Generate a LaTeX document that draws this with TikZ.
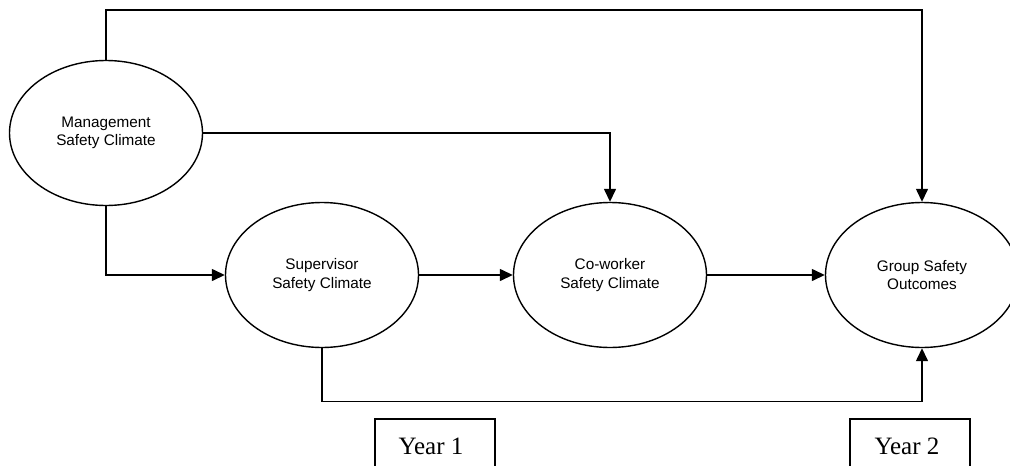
\documentclass[tikz,border=0pt]{standalone}
\usepackage{fontspec}
\setmainfont{Liberation Serif}
\newfontfamily\arialfont{Liberation Sans}
\usetikzlibrary{shapes.geometric,arrows.meta}

\tikzset{
  construct/.style={draw, ellipse, line width=1.4pt, inner sep=0pt,
    minimum width=193pt, minimum height=145pt, align=center,
    font=\arialfont\fontsize{15.3}{18.5}\selectfont},
  yearbox/.style={draw, rectangle, line width=1.4pt, inner sep=0pt,
    minimum width=120pt, minimum height=56pt},
  yeartext/.style={font=\fontsize{25}{28}\selectfont, anchor=base},
  arr/.style={line width=1.4pt, -{Triangle[length=13pt,width=12pt]}}
}

\begin{document}
\begin{tikzpicture}[x=1pt, y=-1pt]
  \clip (0,0) rectangle (1010,466);
  \fill[white] (0,0) rectangle (1010,466);

  % constructs
  \node[construct] (mgmt) at (106,133) {Management\\Safety Climate};
  \node[construct] (sup)  at (322,275) {Supervisor\\Safety Climate};
  \node[construct] (cow)  at (610,275) {Co-worker\\Safety Climate};
  \node[construct] (grp)  at (922,275) {Group Safety\\Outcomes};

  % measurement waves
  \node[yearbox] (y1) at (435,447) {};
  \node[yearbox] (y2) at (910,447) {};
  \node[yeartext] (y1t) at (431,454) {Year 1};
  \node[yeartext] (y2t) at (907,454) {Year 2};

  % paths
  \draw[arr] (mgmt.north) -- ++(0,-50) -| (grp.north);
  \draw[arr] (mgmt.east) -| (cow.north);
  \draw[arr] (mgmt.south) |- (sup.west);
  \draw[arr] (sup.east) -- (cow.west);
  \draw[arr] (cow.east) -- (grp.west);
  \draw[arr] (sup.south) -- ++(0,53) -| (grp.south);
\end{tikzpicture}
\end{document}
